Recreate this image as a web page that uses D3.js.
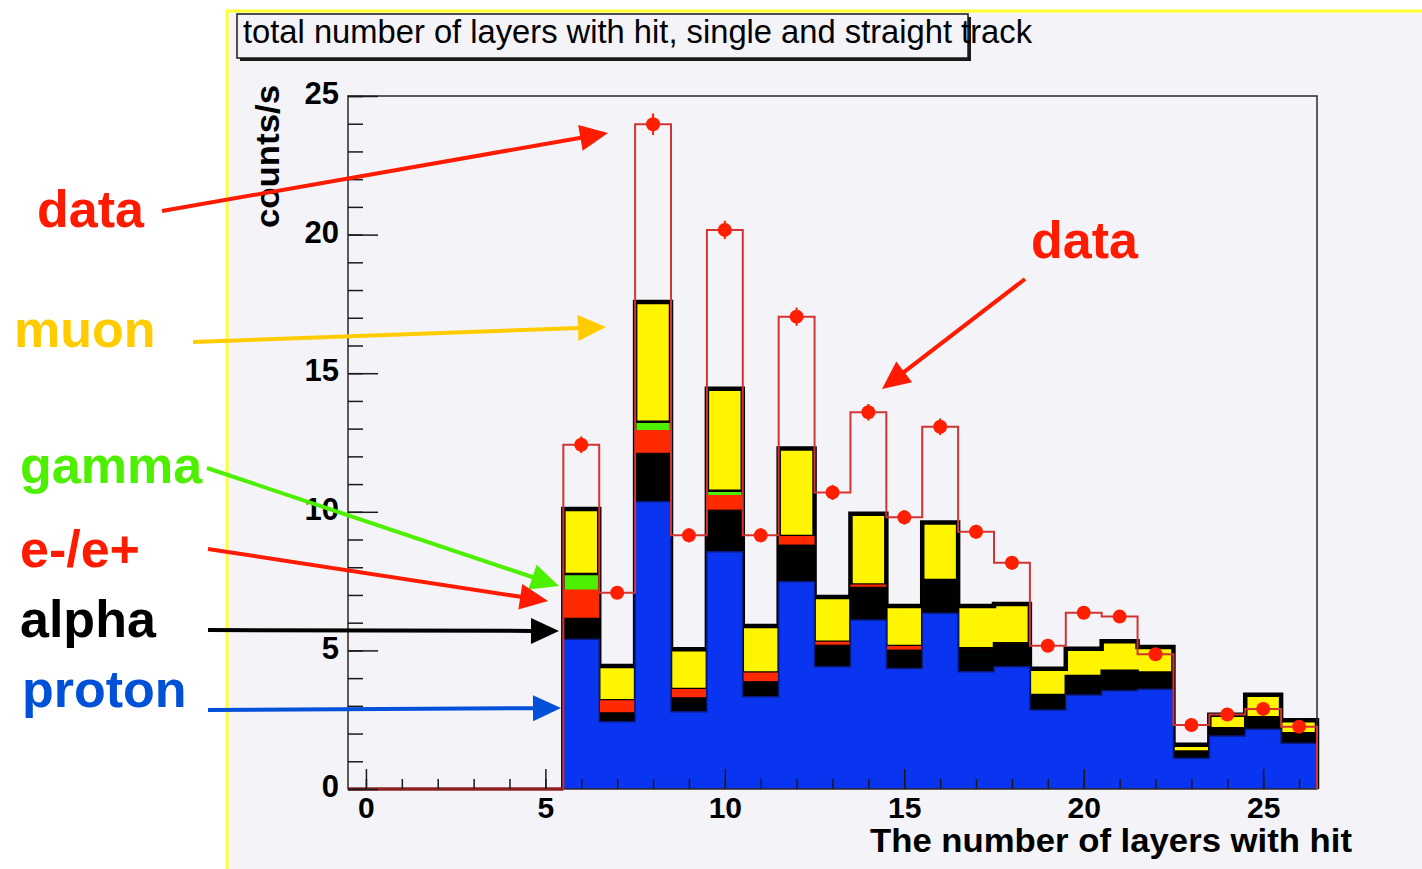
<!DOCTYPE html>
<html>
<head>
<meta charset="utf-8">
<script src="https://cdn.jsdelivr.net/npm/d3@7"></script>
<style>
  body { margin: 0; background: #ffffff; }
  svg { display: block; }
</style>
</head>
<body>
<svg id="chart" width="1422" height="869"></svg>
<script>
// Number of layers with a hit (bin centres)
const layers   = [0, 1, 2, 3, 4, 5, 6, 7, 8, 9, 10, 11, 12, 13, 14, 15, 16, 17, 18, 19, 20, 21, 22, 23, 24, 25, 26];
// Simulated contributions (counts/s), stacked bottom to top
const proton   = [0, 0, 0, 0, 0, 0, 5.40, 2.43, 10.36, 2.79, 8.56, 3.33, 7.48, 4.41, 6.10, 4.35, 6.34, 4.23, 4.41, 2.85, 3.39, 3.54, 3.60, 1.11, 1.91, 2.16, 1.65];
const alpha    = [0, 0, 0, 0, 0, 0, 0.76, 0.32, 1.75, 0.50, 1.50, 0.54, 1.32, 0.78, 1.18, 0.66, 1.20, 0.85, 0.85, 0.54, 0.69, 0.73, 0.60, 0.24, 0.28, 0.43, 0.36];
const electron = [0, 0, 0, 0, 0, 0, 1.04, 0.45, 0.84, 0.32, 0.55, 0.33, 0.33, 0.12, 0.10, 0.15, 0, 0, 0, 0, 0, 0, 0, 0, 0, 0, 0];
const gamma    = [0, 0, 0, 0, 0, 0, 0.56, 0, 0.30, 0, 0.15, 0, 0, 0, 0, 0, 0, 0, 0, 0, 0, 0, 0, 0, 0, 0, 0];
const muon     = [0, 0, 0, 0, 0, 0, 2.34, 1.24, 4.32, 1.43, 3.68, 1.68, 3.15, 1.62, 2.55, 1.44, 2.07, 1.52, 1.41, 0.95, 0.98, 1.06, 0.92, 0.25, 0.49, 0.81, 0.47];
// Measured rate and its statistical error
const data     = [0, 0, 0, 0, 0, 0, 12.42, 7.08, 23.98, 9.15, 20.17, 9.15, 17.04, 10.70, 13.59, 9.80, 13.07, 9.28, 8.16, 5.17, 6.36, 6.22, 4.86, 2.31, 2.69, 2.89, 2.25];
const dataErr  = [0, 0, 0, 0, 0, 0, 0.30, 0.22, 0.39, 0.25, 0.33, 0.25, 0.33, 0.27, 0.30, 0.26, 0.30, 0.25, 0.24, 0.19, 0.21, 0.21, 0.18, 0.13, 0.14, 0.14, 0.13];

const xTickLabels = [0, 5, 10, 15, 20, 25];
const yTickLabels = [0, 5, 10, 15, 20, 25];

const svg = d3.select("#chart");
const W = 1422, H = 869;
const BG = "#f4f3f7";

// Canvas with yellow border on top and left
svg.append("rect").attr("x", 228).attr("y", 12).attr("width", W - 228).attr("height", H - 12).attr("fill", BG);
svg.append("line").attr("x1", 227).attr("x2", 227).attr("y1", 10).attr("y2", H).attr("stroke", "#ffff30").attr("stroke-width", 3);
svg.append("line").attr("x1", 226).attr("x2", W).attr("y1", 11).attr("y2", 11).attr("stroke", "#ffff30").attr("stroke-width", 3);

const frame = { left: 348, right: 1317, top: 96, bottom: 789 };
const x = d3.scaleLinear().domain([-0.5, 26.5]).range([frame.left, frame.right]);
const y = d3.scaleLinear().domain([0, 25]).range([frame.bottom, frame.top]);

// Cumulative stack levels
const cumProton = layers.map((_, i) => proton[i]);
const cumAlpha  = layers.map((_, i) => cumProton[i] + alpha[i]);
const cumElec   = layers.map((_, i) => cumAlpha[i] + electron[i]);
const cumGamma  = layers.map((_, i) => cumElec[i] + gamma[i]);
const cumMuon   = layers.map((_, i) => cumGamma[i] + muon[i]);

// Histogram edge points for a series, restricted to a bin range
function edges(vals, from, to) {
  const pts = [];
  for (let i = from; i <= to; i++) {
    pts.push([layers[i] - 0.5, vals[i]]);
    pts.push([layers[i] + 0.5, vals[i]]);
  }
  return pts;
}
const first = 6, last = 26;
const area = d3.area().x(d => x(d[0])).y0(y(0)).y1(d => y(d[1]));
const outline = d3.line().x(d => x(d[0])).y(d => y(d[1]));
function closedOutline(vals, from, to) {
  const pts = edges(vals, from, to);
  return [[pts[0][0], 0], ...pts, [pts[pts.length - 1][0], 0]];
}

const plot = svg.append("g");
// Stack drawn from the total downwards, each with its own fill and line
const stack = [
  { vals: cumMuon,   fill: "#fff500", stroke: "#000000", sw: 4.5 },
  { vals: cumGamma,  fill: "#4cf000", stroke: "#000000", sw: 2.5 },
  { vals: cumElec,   fill: "#ff2a00", stroke: "none",    sw: 0 },
  { vals: cumAlpha,  fill: "#000000", stroke: "#000000", sw: 1 },
  { vals: cumProton, fill: "#0a35f0", stroke: "#0a1a80", sw: 1.5 }
];
stack.forEach(s => {
  plot.append("path").attr("d", area(edges(s.vals, first, last))).attr("fill", s.fill);
  if (s.stroke !== "none") {
    plot.append("path").attr("d", outline(closedOutline(s.vals, first, last)))
      .attr("fill", "none").attr("stroke", s.stroke).attr("stroke-width", s.sw);
  }
});

// Axes frame
plot.append("rect").attr("x", frame.left).attr("y", frame.top)
  .attr("width", frame.right - frame.left).attr("height", frame.bottom - frame.top)
  .attr("fill", "none").attr("stroke", "#2a2a2a").attr("stroke-width", 1.5);

// Measured histogram outline
plot.append("path").attr("d", outline(closedOutline(data, 0, 26)))
  .attr("fill", "none").attr("stroke", "#d23434").attr("stroke-width", 2);
plot.append("line").attr("x1", x(-0.5)).attr("x2", x(5.5)).attr("y1", y(0)).attr("y2", y(0))
  .attr("stroke", "#8e2222").attr("stroke-width", 3.5);

// Error bars and markers
const pts = layers.map((l, i) => ({ l, v: data[i], e: dataErr[i] })).filter(d => d.v > 0);
plot.selectAll(".err").data(pts).join("line")
  .attr("x1", d => x(d.l)).attr("x2", d => x(d.l))
  .attr("y1", d => y(d.v - d.e)).attr("y2", d => y(d.v + d.e))
  .attr("stroke", "#ff1e00").attr("stroke-width", 2);
plot.selectAll(".dot").data(pts).join("circle")
  .attr("cx", d => x(d.l)).attr("cy", d => y(d.v)).attr("r", 7)
  .attr("fill", "#ff1e00");

// Axes
const tickFont = "'Liberation Sans', Arial, sans-serif";
const yMinor = d3.axisLeft(y).tickValues(d3.range(0, 26)).tickSize(-15).tickFormat("");
const yMajor = d3.axisLeft(y).tickValues(yTickLabels).tickSize(-30).tickPadding(9);
const xMinor = d3.axisBottom(x).tickValues(d3.range(0, 27)).tickSize(-10).tickFormat("");
const xMajor = d3.axisBottom(x).tickValues(xTickLabels).tickSize(-20).tickPadding(8);

function styleAxis(g) {
  g.select(".domain").remove();
  g.selectAll("line").attr("stroke", "#1a1a1a").attr("stroke-width", 1.5);
  g.selectAll("text").attr("font-family", tickFont).attr("font-weight", "bold")
    .attr("font-size", 31).attr("fill", "#000");
}
svg.append("g").attr("transform", `translate(${frame.left},0)`).call(yMinor).call(styleAxis);
svg.append("g").attr("transform", `translate(${frame.left},0)`).call(yMajor).call(styleAxis)
  .selectAll("text").attr("dy", "0.25em");
svg.append("g").attr("transform", `translate(0,${frame.bottom})`).call(xMinor).call(styleAxis);
svg.append("g").attr("transform", `translate(0,${frame.bottom})`).call(xMajor).call(styleAxis)
  .selectAll("text").attr("font-size", 30);

// Axis titles
svg.append("text").attr("x", 870).attr("y", 852)
  .attr("font-family", tickFont).attr("font-weight", "bold").attr("font-size", 34)
  .attr("textLength", 482).attr("lengthAdjust", "spacingAndGlyphs")
  .text("The number of layers with hit");
svg.append("text").attr("transform", "translate(279,228) rotate(-90)")
  .attr("font-family", tickFont).attr("font-weight", "bold").attr("font-size", 33)
  .attr("textLength", 143).attr("lengthAdjust", "spacingAndGlyphs")
  .text("counts/s");

// Title box with shadow
svg.append("rect").attr("x", 240).attr("y", 17).attr("width", 731).attr("height", 44).attr("fill", "#1a1a1a");
svg.append("rect").attr("x", 237).attr("y", 14).attr("width", 731).attr("height", 44)
  .attr("fill", BG).attr("stroke", "#1a1a1a").attr("stroke-width", 1.5);
svg.append("text").attr("x", 243).attr("y", 43)
  .attr("font-family", "'Liberation Sans Narrow', 'Liberation Sans', Arial, sans-serif").attr("font-size", 33)
  .attr("textLength", 789).attr("lengthAdjust", "spacingAndGlyphs").attr("fill", "#000")
  .text("total number of layers with hit, single and straight track");

// Annotations
const annFont = "'Liberation Sans', Arial, sans-serif";
const notes = [
  { text: "data",   color: "#ff1a00", tx: 37,   ty: 227, from: [162, 211], to: [608, 133] },
  { text: "muon",   color: "#ffcc00", tx: 14,   ty: 347, from: [193, 342], to: [606, 327] },
  { text: "gamma",  color: "#4cf000", tx: 20,   ty: 483, from: [207, 468], to: [559, 586] },
  { text: "e-/e+",  color: "#ff1a00", tx: 20,   ty: 567, from: [208, 549], to: [548, 601] },
  { text: "alpha",  color: "#000000", tx: 20,   ty: 637, from: [208, 630], to: [559, 631] },
  { text: "proton", color: "#0050d8", tx: 22,   ty: 707, from: [208, 710], to: [561, 708] },
  { text: "data",   color: "#ff1a00", tx: 1031, ty: 258, from: [1025, 279], to: [882, 389] }
];
const ann = svg.append("g");
function arrow(g, [x1, y1], [x2, y2], color) {
  const dx = x2 - x1, dy = y2 - y1, L = Math.hypot(dx, dy);
  const ux = dx / L, uy = dy / L, hl = 28, hw = 13;
  const bx = x2 - ux * hl, by = y2 - uy * hl;
  g.append("line").attr("x1", x1).attr("y1", y1).attr("x2", bx + ux * 2).attr("y2", by + uy * 2)
    .attr("stroke", color).attr("stroke-width", 4);
  g.append("path")
    .attr("d", `M${x2},${y2}L${bx - uy * hw},${by + ux * hw}L${bx + uy * hw},${by - ux * hw}Z`)
    .attr("fill", color);
}
notes.forEach(n => {
  ann.append("text").attr("x", n.tx).attr("y", n.ty)
    .attr("font-family", annFont).attr("font-weight", "bold").attr("font-size", 52)
    .attr("fill", n.color).text(n.text);
  arrow(ann, n.from, n.to, n.color);
});
</script>
</body>
</html>
